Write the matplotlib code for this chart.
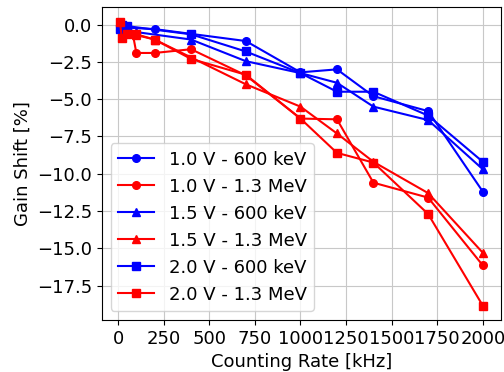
import matplotlib
matplotlib.use("Agg")
import matplotlib.pyplot as plt

# counting rate [kHz] and gain shift [%] per setting
x_10_600 = [10, 50, 200, 700, 1000, 1200, 1400, 1700, 2000]
y_10_600 = [0.0, -0.2, -0.3, -1.1, -3.2, -3.0, -4.8, -5.8, -11.2]

x_10_13 = [10, 20, 80, 100, 200, 400, 700, 1000, 1200, 1400, 1700, 2000]
y_10_13 = [0.1, -0.3, -0.6, -1.9, -1.9, -1.65, -3.4, -6.3, -6.35, -10.6, -11.6, -16.15]

x_15_600 = [10, 50, 100, 400, 700, 1000, 1200, 1400, 1700, 2000]
y_15_600 = [-0.1, -0.3, -0.5, -1.0, -2.45, -3.25, -3.9, -5.5, -6.4, -9.7]

x_15_13 = [10, 20, 50, 100, 200, 700, 1000, 1200, 1400, 1700, 2000]
y_15_13 = [0.1, -0.2, -0.5, -0.7, -1.0, -4.0, -5.5, -7.3, -9.2, -11.3, -15.3]

x_20_600 = [10, 20, 50, 400, 700, 1000, 1200, 1400, 1700, 2000]
y_20_600 = [-0.3, 0.0, -0.1, -0.65, -1.8, -3.25, -4.5, -4.5, -6.1, -9.2]

x_20_13 = [10, 20, 50, 100, 200, 400, 700, 1000, 1200, 1400, 1700, 2000]
y_20_13 = [0.2, -0.9, -0.6, -0.65, -1.0, -2.3, -3.36, -6.3, -8.6, -9.25, -12.7, -18.85]

plt.rcParams['font.size'] = 13
fig = plt.figure(figsize=(5.04, 3.72), dpi=100)
ax = fig.add_axes([0.202, 0.140, 0.792, 0.840])

ms = 5.5
ax.plot(x_10_600, y_10_600, 'b-o', ms=ms, label="1.0 V - 600 keV")
ax.plot(x_10_13, y_10_13, 'r-o', ms=ms, label="1.0 V - 1.3 MeV")
ax.plot(x_15_600, y_15_600, 'b-^', ms=ms, label="1.5 V - 600 keV")
ax.plot(x_15_13, y_15_13, 'r-^', ms=ms, label="1.5 V - 1.3 MeV")
ax.plot(x_20_600, y_20_600, 'b-s', ms=ms, label="2.0 V - 600 keV")
ax.plot(x_20_13, y_20_13, 'r-s', ms=ms, label="2.0 V - 1.3 MeV")

ax.set_xticks([0, 250, 500, 750, 1000, 1250, 1500, 1750, 2000])
ax.set_yticks([0.0, -2.5, -5.0, -7.5, -10.0, -12.5, -15.0, -17.5])
ax.grid(True, color='#c8c8c8')
ax.set_axisbelow(True)
ax.set_xlabel("Counting Rate [kHz]")
ax.set_ylabel("Gain Shift [%]")
ax.legend(loc="lower left")

fig.savefig("out.png")
